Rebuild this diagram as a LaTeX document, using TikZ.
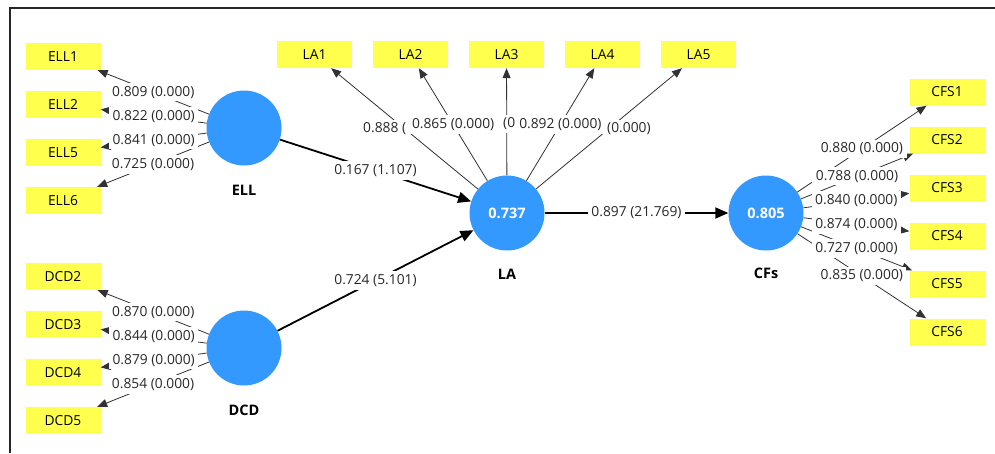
\documentclass[tikz,border=0pt]{standalone}
\usepackage{fontspec}
\setmainfont{Open Sans}
\usetikzlibrary{arrows.meta}
\definecolor{indyellow}{RGB}{255,255,77}
\definecolor{latblue}{RGB}{51,153,255}
\definecolor{linegray}{RGB}{50,50,50}
\definecolor{labelgray}{RGB}{40,40,40}
\newcommand\myfs{\fontsize{13.8}{16}\selectfont}
\newcommand\myfb{\fontsize{14.5}{16}\selectfont\bfseries}
\begin{document}
\begin{tikzpicture}[x=1pt,y=-1pt,
  ind/.style={fill=indyellow, minimum width=75pt, minimum height=27pt, inner sep=0pt, font=\myfs, text=black},
  lat/.style={circle, fill=latblue, minimum size=75pt, inner sep=0pt, text=white, font=\myfb},
  latname/.style={font=\myfb, text=black},
  load/.style={draw=linegray, line width=0.8pt, -{Triangle[length=10pt,width=8pt]}},
  strpath/.style={draw=black, line width=1.8pt, -{Triangle[length=13pt,width=11pt]}},
  lbl/.style={fill=white, inner xsep=3.5pt, inner ysep=3pt, font=\myfs, text=labelgray}]
\useasboundingbox (0,0) rectangle (995,453);
\fill[white] (0,0) rectangle (995,453);
\draw[line width=2pt, black!85] (10,453) -- (10,8) -- (995,8);

% latent variables
\node[lat] (ell) at (244,128) {};
\node[lat] (dcd) at (244,348) {};
\node[lat] (la) at (507,213) {0.737};
\node[lat] (cfs) at (766,213) {0.805};
\node[latname] (ellname) at (244,190) {ELL};
\node[latname] (dcdname) at (244,410) {DCD};
\node[latname] (laname) at (507,274) {LA};
\node[latname] (cfsname) at (766,273) {CFs};

% indicators
\node[ind] (ell1) at (63,56.5) {ELL1};
\node[ind] (ell2) at (63,104.5) {ELL2};
\node[ind] (ell5) at (63,152.5) {ELL5};
\node[ind] (ell6) at (63,200.5) {ELL6};
\node[ind] (dcd2) at (63,276.5) {DCD2};
\node[ind] (dcd3) at (63,324.5) {DCD3};
\node[ind] (dcd4) at (63,372.5) {DCD4};
\node[ind] (dcd5) at (63,420.5) {DCD5};
\node[ind] (la1) at (314.5,54.5) {LA1};
\node[ind] (la2) at (410.5,54.5) {LA2};
\node[ind] (la3) at (506.5,54.5) {LA3};
\node[ind] (la4) at (602.5,54.5) {LA4};
\node[ind] (la5) at (698.5,54.5) {LA5};
\node[ind] (cfs1) at (947,92) {CFS1};
\node[ind] (cfs2) at (947,140) {CFS2};
\node[ind] (cfs3) at (947,188) {CFS3};
\node[ind] (cfs4) at (947,236) {CFS4};
\node[ind] (cfs5) at (947,284) {CFS5};
\node[ind] (cfs6) at (947,332) {CFS6};

% loadings
\foreach \a/\b in {ell/ell1,ell/ell2,ell/ell5,ell/ell6,dcd/dcd2,dcd/dcd3,dcd/dcd4,dcd/dcd5,la/la1,la/la2,la/la3,la/la4,la/la5,cfs/cfs1,cfs/cfs2,cfs/cfs3,cfs/cfs4,cfs/cfs5,cfs/cfs6}
  \draw[load] (\a) -- coordinate[midway] (m-\b) (\b);

% structural paths
\draw[strpath] (ell) -- coordinate[midway] (m-ellla) (la);
\draw[strpath] (dcd) -- coordinate[midway] (m-dcdla) (la);
\draw[strpath] (la) -- coordinate[midway] (m-lacfs) (cfs);

% labels
\node[lbl] (t-ell1) at (m-ell1) {0.809 (0.000)};
\node[lbl] (t-ell2) at (m-ell2) {0.822 (0.000)};
\node[lbl] (t-ell5) at (m-ell5) {0.841 (0.000)};
\node[lbl] (t-ell6) at (m-ell6) {0.725 (0.000)};
\node[lbl] (t-dcd2) at (m-dcd2) {0.870 (0.000)};
\node[lbl] (t-dcd3) at (m-dcd3) {0.844 (0.000)};
\node[lbl] (t-dcd4) at (m-dcd4) {0.879 (0.000)};
\node[lbl] (t-dcd5) at (m-dcd5) {0.854 (0.000)};
\node[lbl, anchor=west] (t-la1) at (359.5,129) {0.888 (};
\node[lbl, anchor=west] (t-la3) at (499.5,124) {(0};
\node[lbl, anchor=west] (t-la5) at (603.5,129) {(0.000)};
\node[lbl] (t-la2) at (m-la2) {0.865 (0.000)};
\node[lbl] (t-la4) at (m-la4) {0.892 (0.000)};
\node[lbl] (t-cfs1) at (m-cfs1) {0.880 (0.000)};
\node[lbl] (t-cfs2) at (m-cfs2) {0.788 (0.000)};
\node[lbl] (t-cfs3) at (m-cfs3) {0.840 (0.000)};
\node[lbl] (t-cfs4) at (m-cfs4) {0.874 (0.000)};
\node[lbl] (t-cfs5) at (m-cfs5) {0.727 (0.000)};
\node[lbl] (t-cfs6) at (m-cfs6) {0.835 (0.000)};
\node[lbl] (t-ellla) at (m-ellla) {0.167 (1.107)};
\node[lbl] (t-dcdla) at (m-dcdla) {0.724 (5.101)};
\node[lbl] (t-lacfs) at (m-lacfs) {0.897 (21.769)};
\end{tikzpicture}
\end{document}
